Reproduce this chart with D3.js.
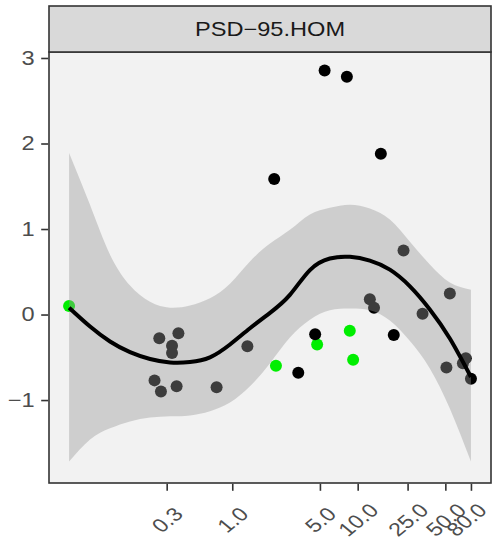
<!DOCTYPE html>
<html><head><meta charset="utf-8">
<script src="https://cdn.jsdelivr.net/npm/d3@7"></script>
<style>body{margin:0;background:#fff;}svg{display:block;font-family:"Liberation Sans",Arial,sans-serif;}</style>
</head><body><svg id="c" width="492" height="542"></svg>
<script>
const stripLabel = "PSD−95.HOM";
const xTicks = [0.3, 1.0, 5.0, 10.0, 25.0, 50.0, 80.0];
const xTickLabels = ["0.3", "1.0", "5.0", "10.0", "25.0", "50.0", "80.0"];
const yTicks = [-1, 0, 1, 2, 3];
const yTickLabels = ["−1", "0", "1", "2", "3"];

// observed points
const ptX = [0.05, 2.23, 4.75, 8.65, 9.2,
  3.36, 4.58, 2.16, 5.45, 8.2, 15.3, 19.4, 80,
  0.262, 0.372, 0.331, 0.331, 0.24, 0.27, 0.36, 0.75, 1.32,
  23.2, 12.5, 13.5, 32.9, 54.3, 51, 72.8, 69];
const ptY = [0.10, -0.60, -0.35, -0.19, -0.53,
  -0.68, -0.23, 1.585, 2.855, 2.78, 1.88, -0.24, -0.75,
  -0.277, -0.22, -0.366, -0.45, -0.77, -0.90, -0.84, -0.85, -0.37,
  0.75, 0.18, 0.08, 0.01, 0.245, -0.62, -0.51, -0.57];
const ptGroup = ["B","B","B","B","B",
  "A","A","A","A","A","A","A","A",
  "A","A","A","A","A","A","A","A","A",
  "A","A","A","A","A","A","A","A"];

// smoother (fit with confidence band)
const smX  = [0.05, 0.0735, 0.106, 0.153, 0.221, 0.319, 0.46, 0.664, 0.959, 1.384, 2.0, 2.88, 4.16, 6.0, 8.67, 12.5, 18.05, 26.1, 37.6, 54.3, 80];
const smFit= [0.08, -0.14, -0.315, -0.44, -0.52, -0.56, -0.555, -0.50, -0.35, -0.16, 0.02, 0.23, 0.52, 0.655, 0.675, 0.63, 0.525, 0.33, 0.06, -0.28, -0.73];
const smHi = [1.89, 1.28, 0.70, 0.34, 0.15, 0.08, 0.105, 0.19, 0.36, 0.62, 0.83, 0.99, 1.17, 1.25, 1.285, 1.24, 1.11, 0.85, 0.585, 0.375, 0.29];
const smLo = [-1.72, -1.46, -1.33, -1.25, -1.205, -1.19, -1.18, -1.13, -1.03, -0.84, -0.57, -0.27, -0.06, 0.05, 0.07, 0.05, -0.07, -0.31, -0.63, -1.10, -1.72];

const groupColor = {A: "#000000", B: "#00EE00"};

const svg = d3.select("#c");
const P = {l: 49, r: 491, t: 52, b: 483};
const strip = {t: 6, b: 52};
const FS = 20, SX = 1.18;

const x = d3.scaleLog().domain([0.03458, 115.6]).range([P.l, P.r]);
const y = d3.scaleLinear().domain([-1.97, 3.07]).range([P.b, P.t]);

// panel background
svg.append("rect").attr("x", P.l).attr("y", P.t).attr("width", P.r - P.l).attr("height", P.b - P.t).attr("fill", "#F2F2F2");

const pts = ptX.map((v, i) => ({x: v, y: ptY[i], g: ptGroup[i]}));
svg.append("g").selectAll("circle").data(pts).join("circle")
  .attr("cx", d => x(d.x)).attr("cy", d => y(d.y)).attr("r", 6)
  .attr("fill", d => groupColor[d.g]);

const sm = smX.map((v, i) => ({x: v, f: smFit[i], lo: smLo[i], hi: smHi[i]}));
svg.append("path").datum(sm)
  .attr("d", d3.area().x(d => x(d.x)).y0(d => y(d.lo)).y1(d => y(d.hi)).curve(d3.curveNatural))
  .attr("fill", "#999999").attr("fill-opacity", 0.4);
svg.append("path").datum(sm)
  .attr("d", d3.line().x(d => x(d.x)).y(d => y(d.f)).curve(d3.curveNatural))
  .attr("fill", "none").attr("stroke", "#000").attr("stroke-width", 4);

// panel border
svg.append("rect").attr("x", P.l).attr("y", P.t).attr("width", P.r - P.l).attr("height", P.b - P.t)
  .attr("fill", "none").attr("stroke", "#333333").attr("stroke-width", 1.6);

// strip
svg.append("rect").attr("x", P.l).attr("y", strip.t).attr("width", P.r - P.l).attr("height", strip.b - strip.t)
  .attr("fill", "#D9D9D9").attr("stroke", "#333333").attr("stroke-width", 1.6);
svg.append("text")
  .attr("transform", `translate(${(P.l + P.r) / 2},${(strip.t + strip.b) / 2}) scale(${SX},1)`)
  .attr("dy", "0.36em")
  .attr("text-anchor", "middle").attr("font-size", FS).attr("fill", "#1A1A1A").text(stripLabel);

// y axis
const yAxis = d3.axisLeft(y).tickValues(yTicks).tickSize(7).tickFormat((d, i) => yTickLabels[i]);
const gy = svg.append("g").attr("transform", `translate(${P.l - 0.8},0)`).call(yAxis);
gy.select(".domain").remove();
gy.selectAll(".tick line").attr("stroke", "#333333").attr("stroke-width", 1.6);
gy.selectAll(".tick text").attr("font-size", FS).attr("fill", "#4D4D4D")
  .attr("font-family", "Liberation Sans, Arial, sans-serif")
  .attr("x", -13.5 / SX).attr("transform", `scale(${SX},1)`);

// x axis
const XFS = 19, XSX = 1.22;
const xAxis = d3.axisBottom(x).tickValues(xTicks).tickSize(7).tickFormat((d, i) => xTickLabels[i]);
const gx = svg.append("g").attr("transform", `translate(0,${P.b + 0.8})`).call(xAxis);
gx.select(".domain").remove();
gx.selectAll(".tick line").attr("stroke", "#333333").attr("stroke-width", 1.6);
gx.selectAll(".tick text")
  .attr("font-size", XFS).attr("fill", "#4D4D4D").attr("font-family", "Liberation Sans, Arial, sans-serif")
  .attr("text-anchor", "middle").attr("y", 0).attr("dy", "0.35em")
  .attr("transform", (d, i) => `translate(${i === xTicks.length - 1 ? -5 : 0},36) scale(${XSX},1) rotate(-45)`);
</script></body></html>
